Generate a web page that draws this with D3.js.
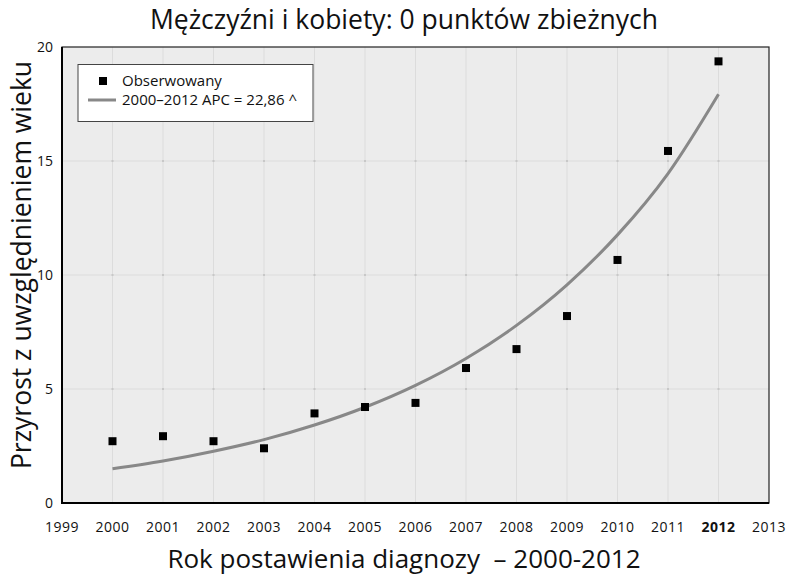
<!DOCTYPE html>
<html>
<head>
<meta charset="utf-8">
<script src="https://cdn.jsdelivr.net/npm/d3@7"></script>
<style>
body { margin: 0; background: #fff; }
text { font-family: "Open Sans", "Noto Sans", sans-serif; fill: #111; }
</style>
</head>
<body>
<script>
const years = [2000, 2001, 2002, 2003, 2004, 2005, 2006, 2007, 2008, 2009, 2010, 2011, 2012];
const observed = [2.71, 2.93, 2.71, 2.40, 3.93, 4.21, 4.39, 5.92, 6.75, 8.20, 10.66, 15.44, 19.37];
const fitted = [1.50, 1.84, 2.27, 2.78, 3.42, 4.20, 5.16, 6.34, 7.79, 9.57, 11.76, 14.45, 17.93];
const xTicks = d3.range(1999, 2014);
const yTicks = [0, 5, 10, 15, 20];

const width = 787;
const height = 575;
const margin = { top: 47, right: 18, bottom: 72, left: 62 };

const svg = d3.select("body").append("svg")
    .attr("width", width)
    .attr("height", height);

const x = d3.scaleLinear().domain([1999, 2013]).range([margin.left, width - margin.right]);
const y = d3.scaleLinear().domain([0, 20]).range([height - margin.bottom, margin.top]);

// tło wykresu
svg.append("rect")
    .attr("x", x(1999)).attr("y", y(20))
    .attr("width", x(2013) - x(1999)).attr("height", y(0) - y(20))
    .attr("fill", "#ececec");

// siatka
const gx = xTicks.slice(1, -1);
const gy = yTicks.slice(1, -1);

svg.append("g").selectAll("line")
    .data(gx)
    .enter().append("line")
    .attr("x1", d => x(d)).attr("x2", d => x(d))
    .attr("y1", y(20)).attr("y2", y(0))
    .attr("stroke", "#dcdcdc").attr("stroke-width", 1);

svg.append("g").selectAll("line")
    .data(gy)
    .enter().append("line")
    .attr("x1", x(1999)).attr("x2", x(2013))
    .attr("y1", d => y(d)).attr("y2", d => y(d))
    .attr("stroke", "#dcdcdc").attr("stroke-width", 1);

// kropki na przecięciach siatki
svg.append("g").selectAll("rect")
    .data(d3.cross(gx, gy))
    .enter().append("rect")
    .attr("x", d => x(d[0]) - 1)
    .attr("y", d => y(d[1]) - 1)
    .attr("width", 2).attr("height", 2)
    .attr("fill", "#c8c8c8");

// ramka
svg.append("rect")
    .attr("x", x(1999)).attr("y", y(20))
    .attr("width", x(2013) - x(1999)).attr("height", y(0) - y(20))
    .attr("fill", "none").attr("stroke", "#222").attr("stroke-width", 1.2);
svg.append("path")
    .attr("d", `M${x(1999)},${y(20)}V${y(0)}H${x(2013)}`)
    .attr("fill", "none").attr("stroke", "#000").attr("stroke-width", 2);

// etykiety osi
svg.append("g").selectAll("text")
    .data(yTicks)
    .enter().append("text")
    .attr("x", x(1999) - 9)
    .attr("y", d => y(d) + 5)
    .attr("text-anchor", "end")
    .attr("font-size", 14)
    .text(d => d);

svg.append("g").selectAll("text")
    .data(xTicks)
    .enter().append("text")
    .attr("x", d => x(d))
    .attr("y", 532)
    .attr("text-anchor", "middle")
    .attr("font-size", 14)
    .attr("letter-spacing", 0.5)
    .attr("font-weight", d => d === 2012 ? "bold" : "normal")
    .text(d => d);

// linia dopasowania
const line = d3.line()
    .x((d, i) => x(years[i]))
    .y(d => y(d))
    .curve(d3.curveMonotoneX);

svg.append("path")
    .datum(fitted)
    .attr("d", line)
    .attr("fill", "none")
    .attr("stroke", "#888")
    .attr("stroke-width", 3);

// punkty obserwowane
svg.append("g").selectAll("rect")
    .data(observed)
    .enter().append("rect")
    .attr("x", (d, i) => x(years[i]) - 4)
    .attr("y", d => y(d) - 4)
    .attr("width", 8).attr("height", 8)
    .attr("fill", "#000");

// legenda
const lg = svg.append("g");
lg.append("rect")
    .attr("x", 78).attr("y", 64.5)
    .attr("width", 235).attr("height", 57)
    .attr("fill", "#fff").attr("stroke", "#444").attr("stroke-width", 1);
lg.append("rect")
    .attr("x", 99).attr("y", 77).attr("width", 8).attr("height", 8)
    .attr("fill", "#000");
lg.append("text")
    .attr("x", 122).attr("y", 86)
    .attr("font-size", 15)
    .text("Obserwowany");
lg.append("line")
    .attr("x1", 88).attr("x2", 116).attr("y1", 100).attr("y2", 100)
    .attr("stroke", "#888").attr("stroke-width", 3);
lg.append("text")
    .attr("x", 122).attr("y", 105)
    .attr("font-size", 15)
    .text("2000–2012 APC = 22,86 ^");

// tytuły
svg.append("text")
    .attr("x", 404).attr("y", 29)
    .attr("text-anchor", "middle")
    .attr("font-size", 26.5)
    .text("Mężczyźni i kobiety: 0 punktów zbieżnych");

svg.append("text")
    .attr("x", 404).attr("y", 568)
    .attr("text-anchor", "middle")
    .attr("font-size", 26)
    .attr("xml:space", "preserve")
    .text("Rok postawienia diagnozy  – 2000-2012");

svg.append("text")
    .attr("transform", "translate(31, 265) rotate(-90)")
    .attr("text-anchor", "middle")
    .attr("font-size", 26.5)
    .text("Przyrost z uwzględnieniem wieku");
</script>
</body>
</html>
